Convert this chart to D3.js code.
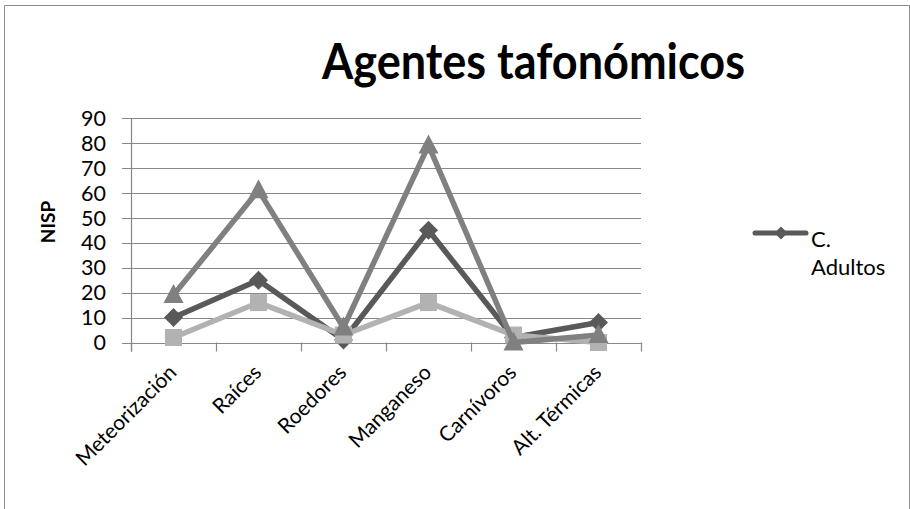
<!DOCTYPE html>
<html><head><meta charset="utf-8">
<script src="https://cdn.jsdelivr.net/npm/d3@7"></script>
<style>body{margin:0;background:#fff}svg{display:block}text{font-family:Lato,"Open Sans",sans-serif;fill:#000}</style>
</head><body><svg id="c" width="910" height="509"></svg>
<script>
const categories = ["Meteorización","Raíces","Roedores","Manganeso","Carnívoros","Alt. Térmicas"];
const adultos = [10, 25, 1, 45, 2, 8];      // dark, diamond
const serieTriangulo = [19, 61, 6, 79, 0, 3]; // medium, triangle
const serieCuadrado = [2, 16, 3, 16, 3, 0];   // light, square
const yTicks = [0,10,20,30,40,50,60,70,80,90];
const title = "Agentes tafonómicos";
const yLabel = "NISP";
const legendLabel = ["C.", "Adultos"];

const svg = d3.select("#c");
// outer border
svg.append("path").attr("d","M4.5,509 V5.5 H909.5 V509").attr("fill","none").attr("stroke","#8c8c8c").attr("stroke-width",1);

const L=131, R=641, T=118, B=342.5;
const x = d3.scaleBand().domain(categories).range([L,R]).paddingInner(0).paddingOuter(0);
const y = d3.scaleLinear().domain([0,90]).range([B,T]);
const cx = d => x(d)+x.bandwidth()/2;

// gridlines
svg.append("g").selectAll("line").data(yTicks).join("line")
  .attr("x1",L-9).attr("x2",R).attr("y1",d=>Math.round(y(d))+0.5).attr("y2",d=>Math.round(y(d))+0.5)
  .attr("stroke","#888").attr("stroke-width",1.2);
// y axis
svg.append("line").attr("x1",L+0.5).attr("x2",L+0.5).attr("y1",T).attr("y2",B+9).attr("stroke","#888").attr("stroke-width",1.2);
// x ticks
const bounds = categories.map(c=>x(c)).concat([R]);
svg.append("g").selectAll("line").data(bounds).join("line")
  .attr("x1",d=>d+0.5).attr("x2",d=>d+0.5).attr("y1",B).attr("y2",B+9).attr("stroke","#888").attr("stroke-width",1.2);
// y tick labels
svg.append("g").selectAll("text").data(yTicks).join("text")
  .attr("x",106).attr("y",d=>y(d)).attr("dy","0.36em").attr("text-anchor","end")
  .style("font-size","21.5px").text(d=>d);
// y label
svg.append("text").attr("transform","translate(55,222) rotate(-90)").attr("text-anchor","middle")
  .style("font-size","19px").style("font-weight","700").text(yLabel);
// x labels
svg.append("g").selectAll("text").data(categories).join("text")
  .attr("transform",d=>`translate(${cx(d)-1},${B+26}) rotate(-45)`).attr("text-anchor","end")
  .attr("dy","0.35em").style("font-size","21px").text(d=>d);
// title
svg.append("text").attr("x",322).attr("y",79).attr("textLength",423).attr("lengthAdjust","spacingAndGlyphs")
  .style("font-size","49px").style("font-weight","700").text(title);

const line = d3.line().x((d,i)=>cx(categories[i])).y(d=>y(d));
function drawSeries(data,color,shape){
  svg.append("path").datum(data).attr("d",line).attr("fill","none").attr("stroke",color)
    .attr("stroke-width",5.5).attr("stroke-linejoin","round");
  const g = svg.append("g");
  data.forEach((v,i)=>{
    const px=cx(categories[i]), py=y(v);
    let p;
    if(shape==="diamond") p=`M${px},${py-9.5}L${px+9.5},${py}L${px},${py+9.5}L${px-9.5},${py}Z`;
    else if(shape==="square") p=`M${px-8.5},${py-8.5}h17v17h-17Z`;
    else p=`M${px},${py-11}L${px+10},${py+8}L${px-10},${py+8}Z`;
    g.append("path").attr("d",p).attr("fill",color);
  });
}
drawSeries(adultos,"#595959","diamond");
drawSeries(serieCuadrado,"#b2b2b2","square");
drawSeries(serieTriangulo,"#808080","triangle");

// legend
const lg = svg.append("g");
lg.append("line").attr("x1",755).attr("x2",806).attr("y1",233).attr("y2",233).attr("stroke","#595959").attr("stroke-width",5).attr("stroke-linecap","round");
lg.append("path").attr("d","M781,226.5L787.5,233L781,239.5L774.5,233Z").attr("fill","#595959");
lg.append("text").attr("x",811).attr("y",247).style("font-size","22px").text(legendLabel[0]);
lg.append("text").attr("x",811).attr("y",275).style("font-size","22px").text(legendLabel[1]);
</script></body></html>
